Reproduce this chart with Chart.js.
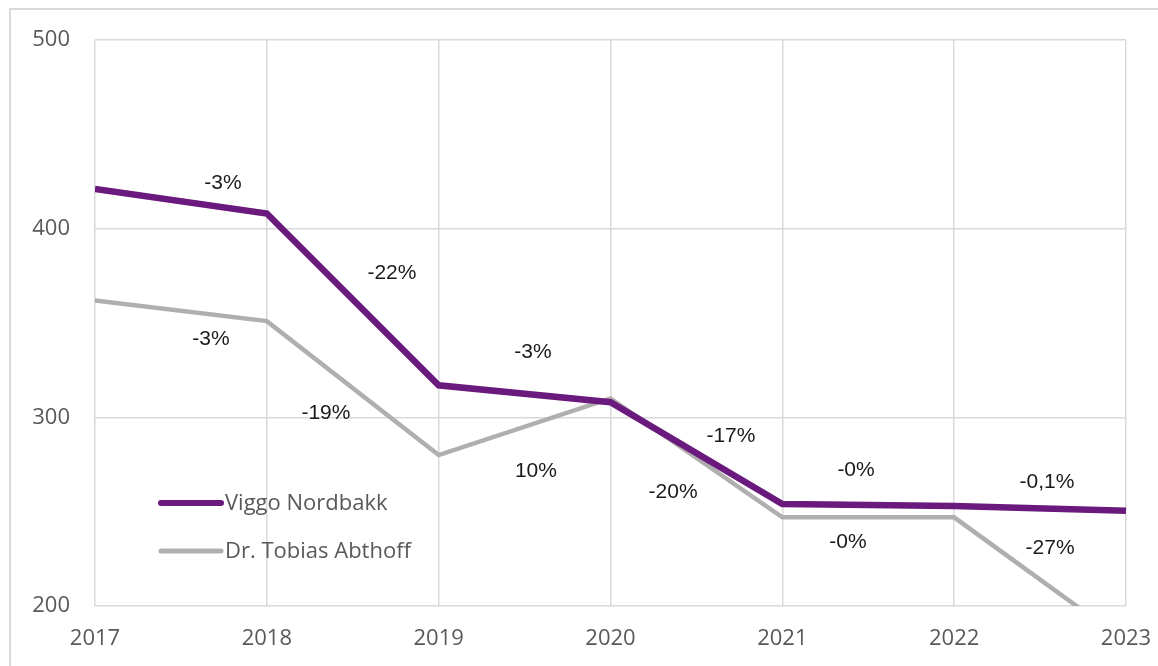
<!DOCTYPE html>
<html>
<head>
<meta charset="utf-8">
<script src="https://cdn.jsdelivr.net/npm/chart.js@4/dist/chart.umd.min.js"></script>
<style>
html,body{margin:0;padding:0;background:#fff;}
#wrap{position:relative;width:1158px;height:666px;}
</style>
</head>
<body>
<div id="wrap"><canvas id="c" width="1158" height="666"></canvas></div>
<script>
// ---- data ----
const years = [2017, 2018, 2019, 2020, 2021, 2022, 2023];
const seriesNames = ['Viggo Nordbakk', 'Dr. Tobias Abthoff'];
const viggo = [421, 408, 317, 308, 254, 253, 250.5];
const tobias = [362, 351, 280, 310, 247, 247, 181];
const viggoChange = ['-3%', '-22%', '-3%', '-17%', '-0%', '-0,1%'];
const tobiasChange = ['-3%', '-19%', '10%', '-20%', '-0%', '-27%'];
const yTicks = [200, 300, 400, 500];

// label anchors in data space (year, value)
const viggoLabelAt = [[2017.745, 424], [2018.728, 376.5], [2019.549, 334.7], [2020.701, 290], [2021.429, 272], [2022.54, 265.8]];
const tobiasLabelAt = [[2017.675, 341.6], [2018.344, 302.3], [2019.566, 271.6], [2020.364, 260.5], [2021.382, 234], [2022.558, 230.5]];

const PURPLE = '#6a1a7c';
const GRAY = '#b1aeae';

const toPts = arr => years.map((y, i) => ({x: y, y: arr[i]}));

const decor = {
  id: 'decor',
  beforeDraw(chart) {
    const ctx = chart.ctx;
    ctx.save();
    ctx.fillStyle = '#fff';
    ctx.fillRect(0, 0, chart.width, chart.height);
    ctx.strokeStyle = '#d9d9d9';
    ctx.lineWidth = 2;
    ctx.beginPath();
    ctx.moveTo(10, 700);
    ctx.lineTo(10, 9);
    ctx.lineTo(1200, 9);
    ctx.stroke();
    ctx.restore();
  },
  afterDatasetsDraw(chart) {
    const ctx = chart.ctx;
    const xs = chart.scales.x, ys = chart.scales.y;
    ctx.save();
    ctx.font = '21px "Liberation Sans", Arial, sans-serif';
    ctx.fillStyle = '#1a1a1a';
    ctx.textAlign = 'center';
    ctx.textBaseline = 'middle';
    viggoChange.forEach((t, i) => {
      const a = viggoLabelAt[i];
      ctx.fillText(t, xs.getPixelForValue(a[0]), ys.getPixelForValue(a[1]));
    });
    tobiasChange.forEach((t, i) => {
      const a = tobiasLabelAt[i];
      ctx.fillText(t, xs.getPixelForValue(a[0]), ys.getPixelForValue(a[1]));
    });
    // legend inside plot area
    const lx = chart.chartArea.left + 66;
    const rows = [[503, PURPLE, 6, seriesNames[0]], [551, GRAY, 5, seriesNames[1]]];
    ctx.font = '22px "Open Sans", "Noto Sans", sans-serif';
    ctx.textAlign = 'left';
    rows.forEach(r => {
      ctx.strokeStyle = r[1];
      ctx.lineWidth = r[2];
      ctx.lineCap = 'round';
      ctx.beginPath();
      ctx.moveTo(lx, r[0]);
      ctx.lineTo(lx + 60, r[0]);
      ctx.stroke();
      ctx.fillStyle = '#595959';
      ctx.fillText(r[3], lx + 64, r[0] + 1);
    });
    ctx.restore();
  }
};

new Chart(document.getElementById('c'), {
  type: 'line',
  data: {
    datasets: [
      {label: seriesNames[0], data: toPts(viggo), borderColor: PURPLE, borderWidth: 6.5, pointRadius: 0, tension: 0, clip: {left: 0, right: 4, top: 0, bottom: 0}, borderJoinStyle: 'miter'},
      {label: seriesNames[1], data: toPts(tobias), borderColor: GRAY, borderWidth: 4.5, pointRadius: 0, tension: 0, clip: 0, borderJoinStyle: 'miter'}
    ]
  },
  options: {
    responsive: false,
    animation: false,
    devicePixelRatio: 1,
    layout: {padding: {left: 0, right: 32, top: 40, bottom: 0}},
    plugins: {legend: {display: false}, tooltip: {enabled: false}},
    scales: {
      x: {
        type: 'linear', min: 2017, max: 2023,
        afterBuildTicks: s => { s.ticks = years.map(v => ({value: v})); },
        afterFit: s => { s.height = 60; s.paddingLeft = 0; s.paddingRight = 0; },
        grid: {color: '#d9d9d9', lineWidth: 1.5, drawTicks: false},
        border: {display: false},
        ticks: {color: '#595959', font: {family: '"Open Sans", "Noto Sans", sans-serif', size: 22}, padding: 20, maxRotation: 0, callback: v => String(v)}
      },
      y: {
        min: 200, max: 500,
        afterBuildTicks: s => { s.ticks = yTicks.map(v => ({value: v})); },
        afterFit: s => { s.width = 95; s.paddingTop = 0; s.paddingBottom = 0; },
        grid: {color: '#d9d9d9', lineWidth: 1.5, drawTicks: false},
        border: {display: false},
        ticks: {color: '#595959', font: {family: '"Open Sans", "Noto Sans", sans-serif', size: 22}, padding: 25}
      }
    }
  },
  plugins: [decor]
});
</script>
</body>
</html>
